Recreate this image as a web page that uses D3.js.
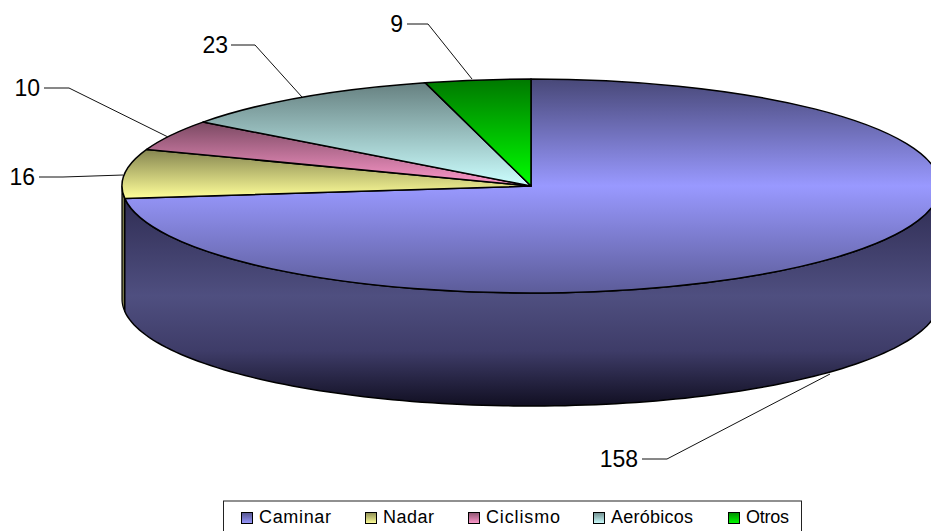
<!DOCTYPE html>
<html>
<head>
<meta charset="utf-8">
<style>
html,body{margin:0;padding:0;background:#fff;overflow:hidden;}
svg{display:block;}
text{font-family:"Liberation Sans",Arial,sans-serif;fill:#000;}
</style>
<script src="https://cdn.jsdelivr.net/npm/d3@7"></script>
</head>
<body>
<svg id="chart" width="931" height="531"></svg>
<script>
// Actividad física preferida: torta 3D con paredes y guías
const categories = ["Caminar", "Nadar", "Ciclismo", "Aeróbicos", "Otros"];
const values = [158, 16, 10, 23, 9];
const colors = ["#9999ff", "#ffff99", "#ff99cc", "#ccffff", "#00ff00"];
const shadeRatio = [0.47, 0.52, 0.48, 0.5, 0.47];

const cx = 531, cy = 186, rx = 409, ry = 107, depth = 113;
const svg = d3.select("#chart");
const defs = svg.append("defs");

const pieLayout = d3.pie().sort(null).value(d => d);
const slices = pieLayout(values);
const arcGen = d3.arc().innerRadius(0).outerRadius(rx);

// Punto del borde de la elipse para un ángulo medido desde arriba en sentido horario
const rim = (a, dy = 0) => [cx + rx * Math.sin(a), cy - ry * Math.cos(a) + dy];
const dark = (c, k) => {
  const r = d3.rgb(c);
  return d3.rgb(r.r * k, r.g * k, r.b * k).formatHex();
};

// Degradados de las caras superiores y de la leyenda
colors.forEach((c, i) => {
  const g = defs.append("linearGradient").attr("id", "face" + i)
    .attr("x1", 0).attr("x2", 0).attr("y1", 0).attr("y2", 1);
  g.append("stop").attr("offset", 0).attr("stop-color", dark(c, shadeRatio[i]));
  if (i === 0) {
    g.append("stop").attr("offset", 0.5).attr("stop-color", c);
    g.append("stop").attr("offset", 1).attr("stop-color", dark(c, 0.6));
  } else {
    g.append("stop").attr("offset", 1).attr("stop-color", c);
  }
  const l = defs.append("linearGradient").attr("id", "key" + i)
    .attr("x1", 0).attr("x2", 0).attr("y1", 0).attr("y2", 1);
  l.append("stop").attr("offset", 0).attr("stop-color", dark(c, 0.55));
  l.append("stop").attr("offset", 1).attr("stop-color", c);
});

// Degradado de la pared lateral
const wallGrad = defs.append("linearGradient").attr("id", "wall")
  .attr("x1", 0).attr("x2", 0).attr("y1", 0).attr("y2", 1);
[[0, "#2a2848"], [0.12, "#34325a"], [0.5, "#4f4f80"], [0.75, "#3e3c68"], [1, "#110f22"]]
  .forEach(([o, c]) => wallGrad.append("stop").attr("offset", o).attr("stop-color", c));

// Pared lateral: tramo inferior de la elipse barrido hacia abajo
function wallPath(a0, a1) {
  const n = 120, top = [], bot = [];
  d3.range(n + 1).forEach(j => {
    const a = a0 + (a1 - a0) * j / n;
    top.push(rim(a));
    bot.push(rim(a, depth));
  });
  return d3.line()(top.concat(bot.reverse())) + "Z";
}

const outline = "#000";
const wall = svg.append("g");
const a1End = slices[0].endAngle;
// franja amarilla visible a la izquierda
wall.append("path").attr("d", wallPath(a1End, 1.5 * Math.PI))
  .attr("fill", "#77774a").attr("stroke", outline).attr("stroke-width", 1.2);
wall.append("path").attr("d", wallPath(Math.PI / 2, a1End))
  .attr("fill", "url(#wall)").attr("stroke", outline).attr("stroke-width", 1.5);

// Caras superiores
svg.append("g")
  .attr("transform", `translate(${cx},${cy}) scale(1,${ry / rx})`)
  .selectAll("path").data(slices).join("path")
  .attr("d", arcGen)
  .attr("fill", (d, i) => `url(#face${i})`)
  .attr("stroke", outline)
  .attr("stroke-width", 1.5)
  .attr("vector-effect", "non-scaling-stroke")
  .attr("stroke-linejoin", "round");

// Etiquetas de valor con sus guías
const labelAnchors = [
  {tx: 638, base: 467, start: [642, 459], knee: [667, 459], end: [830, 374]},
  {tx: 35, base: 185, start: [39, 177], knee: [63, 177], end: [123, 175]},
  {tx: 40, base: 96, start: [44, 88], knee: [69, 88], end: [168, 137]},
  {tx: 228, base: 53, start: [231, 45], knee: [255, 45], end: [302, 97]},
  {tx: 403, base: 32, start: [407, 24], knee: [428, 24], end: [472, 79]}
];
const leaders = svg.append("g");
labelAnchors.forEach((p, i) => {
  leaders.append("path")
    .attr("d", d3.line()([p.start, p.knee, p.end]))
    .attr("fill", "none").attr("stroke", "#111").attr("stroke-width", 1);
  leaders.append("text")
    .attr("x", p.tx).attr("y", p.base)
    .attr("text-anchor", "end").attr("font-size", 23)
    .text(values[i]);
});

// Leyenda: el recuadro continúa más allá del borde inferior
const legendX = [241, 365, 468, 593, 728];
const legendTextX = [259, 383, 486, 611, 746];
const legendTextW = [72, 51, 74, 82, 43];
const legend = svg.append("g");
legend.append("rect").attr("x", 223.5).attr("y", 501).attr("width", 578).attr("height", 40)
  .attr("fill", "#fff").attr("stroke", "#222").attr("stroke-width", 1);
categories.forEach((name, i) => {
  legend.append("rect").attr("x", legendX[i] + 0.5).attr("y", 512.5).attr("width", 11).attr("height", 11)
    .attr("fill", `url(#key${i})`).attr("stroke", "#000");
  legend.append("text").attr("x", legendTextX[i]).attr("y", 523)
    .attr("font-size", 18)
    .attr("textLength", legendTextW[i]).attr("lengthAdjust", "spacing")
    .text(name);
});
</script>
</body>
</html>
